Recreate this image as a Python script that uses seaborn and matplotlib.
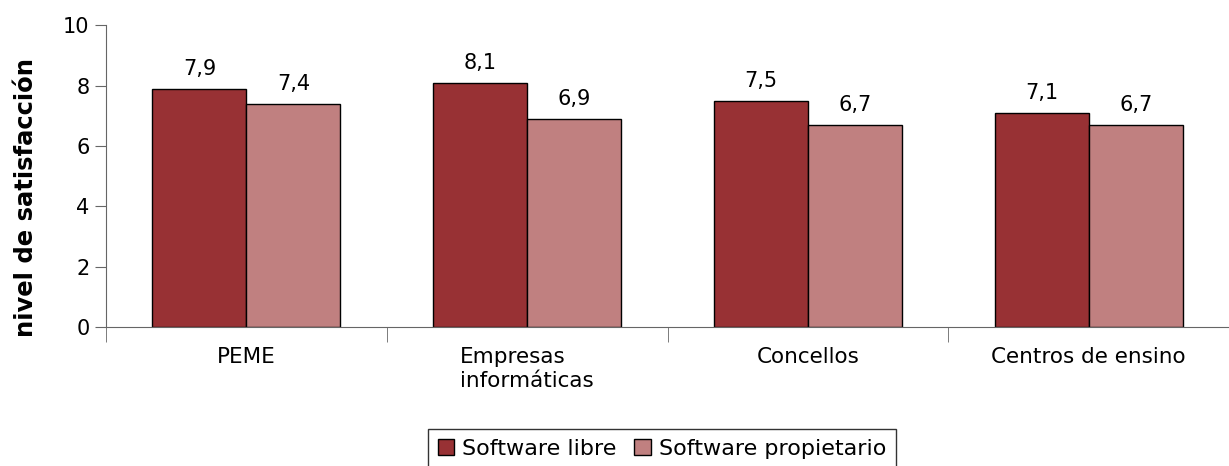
import matplotlib
matplotlib.use("Agg")
import matplotlib.pyplot as plt
import seaborn as sns
import pandas as pd
import numpy as np

categories = ["PEME", "Empresas\ninformáticas", "Concellos", "Centros de ensino"]
libre = [7.9, 8.1, 7.5, 7.1]
propietario = [7.4, 6.9, 6.7, 6.7]
series_names = ["Software libre", "Software propietario"]
colors = ["#983134", "#C08080"]

df = pd.DataFrame({
    "cat": categories * 2,
    "valor": libre + propietario,
    "serie": [series_names[0]] * 4 + [series_names[1]] * 4,
})

sns.set_style("white")
plt.rcParams["font.family"] = ["DejaVu Sans"]
plt.rcParams["text.color"] = "black"
plt.rcParams["axes.labelcolor"] = "black"

fig = plt.figure(figsize=(12.29, 4.66), dpi=100)
ax = fig.add_axes([0.0863, 0.298, 0.9137, 0.648])

sns.barplot(data=df, x="cat", y="valor", hue="serie", palette=colors,
            width=0.67, edgecolor="black", linewidth=1, saturation=1, ax=ax)

for cont in ax.containers:
    ax.bar_label(cont, labels=[f"{v:.1f}".replace(".", ",") for v in cont.datavalues],
                 padding=7, fontsize=15, color="black")

ax.set_ylim(0, 10)
ax.set_xlim(-0.5, 3.5)
ax.set_yticks([0, 2, 4, 6, 8, 10])
ax.tick_params(axis="y", labelsize=15, length=8, color="#666666", labelcolor="black",
               left=True, pad=4)
ax.set_xticks(range(4))
ax.set_xticklabels(categories, fontsize=15.5, multialignment="left", linespacing=1.3,
                   color="black")
ax.tick_params(axis="x", length=0, pad=14)
ax.set_xticks(np.arange(-0.5, 4, 1), minor=True)
ax.tick_params(axis="x", which="minor", length=11, color="#666666", bottom=True)

for s in ["top", "right"]:
    ax.spines[s].set_visible(False)
ax.spines["left"].set_color("#666666")
ax.spines["bottom"].set_color("#666666")

ax.set_xlabel("")
ax.set_ylabel("nivel de satisfacción", fontsize=17.5, fontweight="bold")
ax.yaxis.set_label_coords(-0.061, 0.43)

leg = ax.legend(loc="upper center", bbox_to_anchor=(0.495, -0.3), ncol=2, frameon=True,
                fontsize=16, fancybox=False, edgecolor="black", handlelength=0.75,
                handleheight=0.75, handletextpad=0.35, columnspacing=0.8, borderpad=0.45)
leg.get_frame().set_linewidth(1)

fig.savefig("out.png", dpi=100)
